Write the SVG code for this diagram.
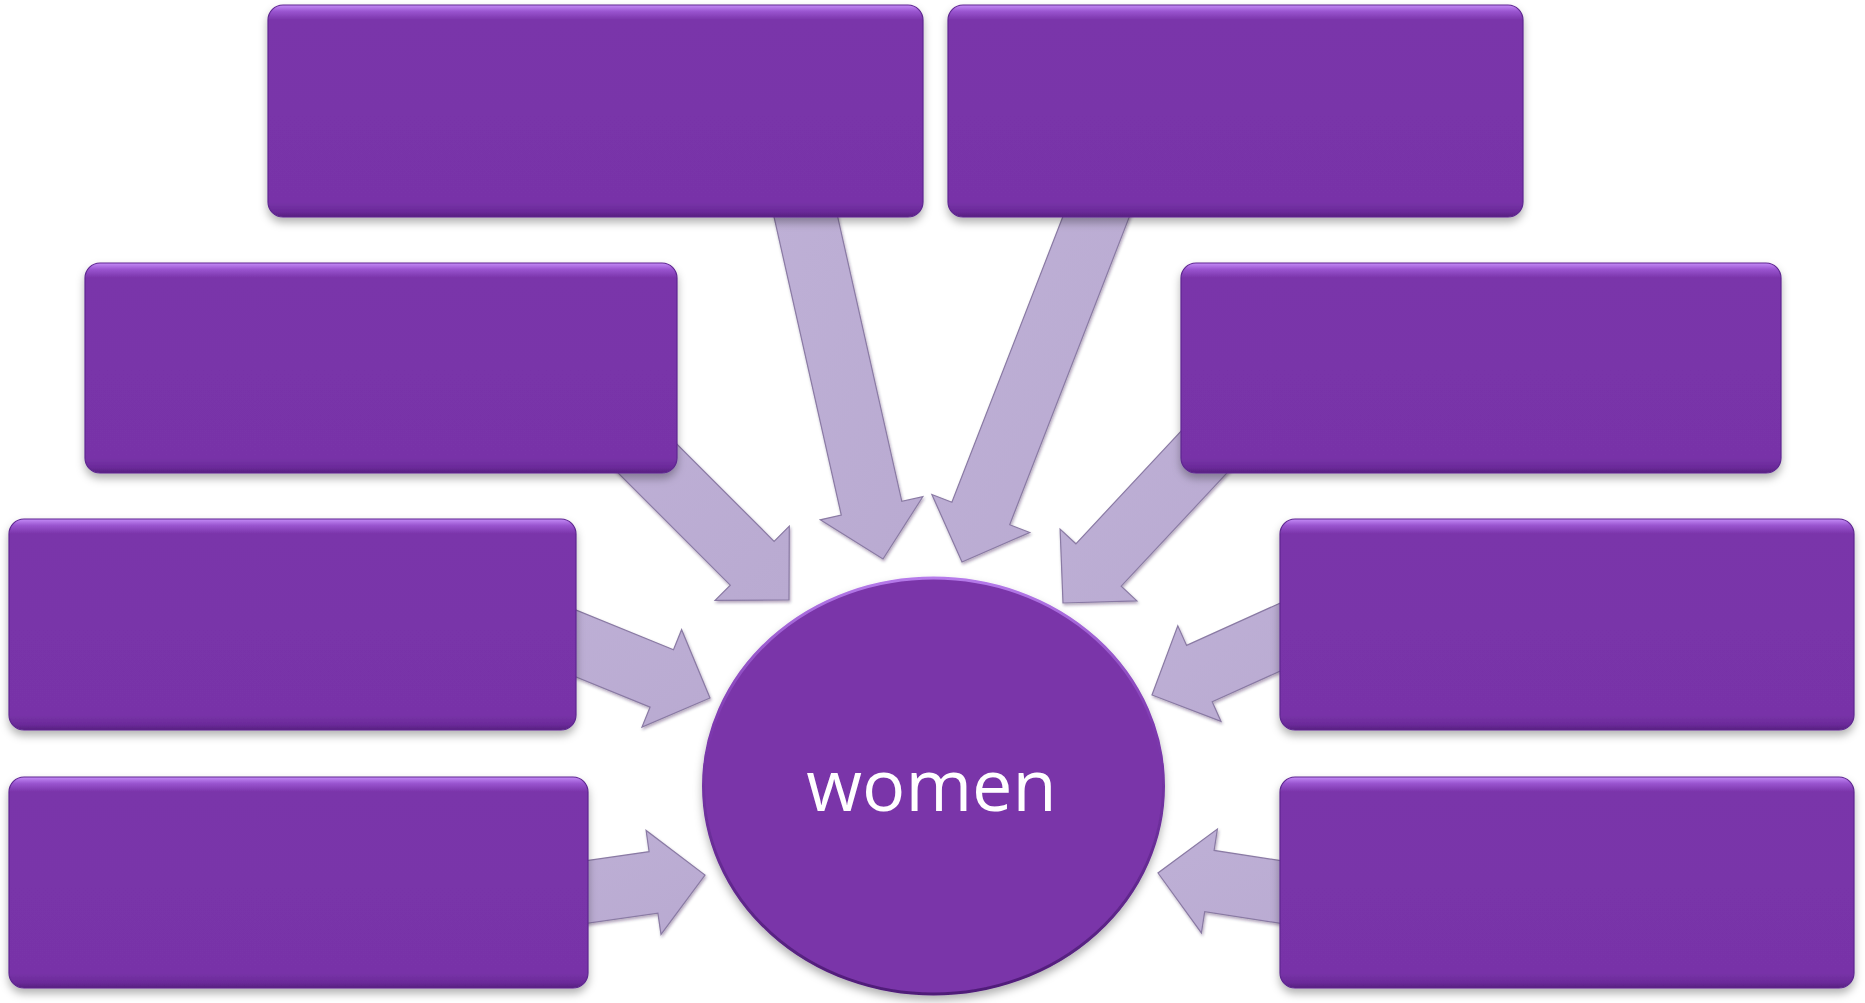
<svg xmlns="http://www.w3.org/2000/svg" width="1865" height="1003" viewBox="0 0 1865 1003">
  <defs>
    <style>
      .box { fill: url(#boxGrad); stroke: #5E2790; stroke-width: 1.2; filter: url(#shadow); }
      .arrow { fill: url(#arrowGrad); stroke: #8A7AA4; stroke-width: 1.2; stroke-linejoin: miter; filter: url(#ashadow); }
      .label { font-family: "Open Sans", "Noto Sans", "DejaVu Sans", sans-serif; font-size: 72px; fill: #FFFFFF; text-anchor: middle; }
    </style>
    <linearGradient id="boxGrad" x1="0" y1="0" x2="0" y2="1">
      <stop offset="0" stop-color="#C48CF7"/>
      <stop offset="0.03" stop-color="#9A55D0"/>
      <stop offset="0.07" stop-color="#7A35AA"/>
      <stop offset="0.93" stop-color="#7833A8"/>
      <stop offset="0.975" stop-color="#6A2A99"/>
      <stop offset="1" stop-color="#56207F"/>
    </linearGradient>
    <linearGradient id="ellStroke" x1="0" y1="0" x2="0" y2="1">
      <stop offset="0" stop-color="#B57AEA"/>
      <stop offset="0.35" stop-color="#7E3AB0"/>
      <stop offset="1" stop-color="#4F1C78"/>
    </linearGradient>
    <linearGradient id="arrowGrad" x1="0" y1="0" x2="1" y2="1">
      <stop offset="0" stop-color="#BEB0D6"/>
      <stop offset="1" stop-color="#B9AAD1"/>
    </linearGradient>
    <filter id="shadow" x="-5%" y="-5%" width="110%" height="115%">
      <feDropShadow dx="0" dy="5" stdDeviation="4" flood-color="#000000" flood-opacity="0.3"/>
    </filter>
    <filter id="ashadow" x="-10%" y="-10%" width="120%" height="120%">
      <feDropShadow dx="1" dy="2" stdDeviation="1.5" flood-color="#2A1040" flood-opacity="0.35"/>
    </filter>
  </defs>

  <rect x="0" y="0" width="1865" height="1003" fill="#FFFFFF"/>

  <g id="connectors">
    <polygon class="arrow" points="769.5,196.8 841.3,515.1 820.3,519.8 883,559 922.8,496.7 901.8,501.4 830.1,183.2"/>
    <polygon class="arrow" points="1077.6,178.8 951.9,502.3 931.9,494.5 962,562 1029.7,532.5 1009.7,524.7 1135.4,201.2"/>
    <polygon class="arrow" points="590.3,445.1 730.3,585.2 715.1,600.4 789,600 789.3,526.1 774.1,541.3 634.1,401.3"/>
    <polygon class="arrow" points="1217.9,391.7 1075.9,543.8 1060.1,529.1 1063,603 1136.9,600.9 1121.2,586.2 1263.3,434.1"/>
    <polygon class="arrow" points="512.9,651.3 650.1,707.1 642.0,727.1 710,698 681.6,629.7 673.5,649.7 536.3,593.9"/>
    <polygon class="arrow" points="511.4,934.1 657.9,913.1 661.0,934.4 705,875 646.1,830.4 649.1,851.7 502.6,872.7"/>
    <polygon class="arrow" points="1339.6,576.2 1186.6,645.4 1177.8,625.8 1152,695 1221.0,721.4 1212.2,701.8 1365.2,632.6"/>
    <polygon class="arrow" points="1380.1,876.1 1214.1,850.4 1217.4,829.1 1158,873 1201.4,932.9 1204.7,911.6 1370.7,937.3"/>
  </g>

  <g id="box-top-left"><rect class="box" x="268" y="5" width="655" height="212" rx="15" ry="15"/></g>
  <g id="box-top-right"><rect class="box" x="948" y="5" width="575" height="212" rx="15" ry="15"/></g>
  <g id="box-mid-left"><rect class="box" x="85" y="263" width="592" height="210" rx="15" ry="15"/></g>
  <g id="box-mid-right"><rect class="box" x="1181" y="263" width="600" height="210" rx="15" ry="15"/></g>
  <g id="box-row3-left"><rect class="box" x="9" y="519" width="567" height="211" rx="15" ry="15"/></g>
  <g id="box-row3-right"><rect class="box" x="1280" y="519" width="574" height="211" rx="15" ry="15"/></g>
  <g id="box-row4-left"><rect class="box" x="9" y="777" width="579" height="211" rx="15" ry="15"/></g>
  <g id="box-row4-right"><rect class="box" x="1280" y="777" width="574" height="211" rx="15" ry="15"/></g>

  <g id="center-women">
    <ellipse cx="933.5" cy="786" rx="230" ry="208" fill="#7A34A9" stroke="url(#ellStroke)" stroke-width="3" filter="url(#shadow)"/>
    <text class="label" x="931.5" y="811">women</text>
  </g>
</svg>
